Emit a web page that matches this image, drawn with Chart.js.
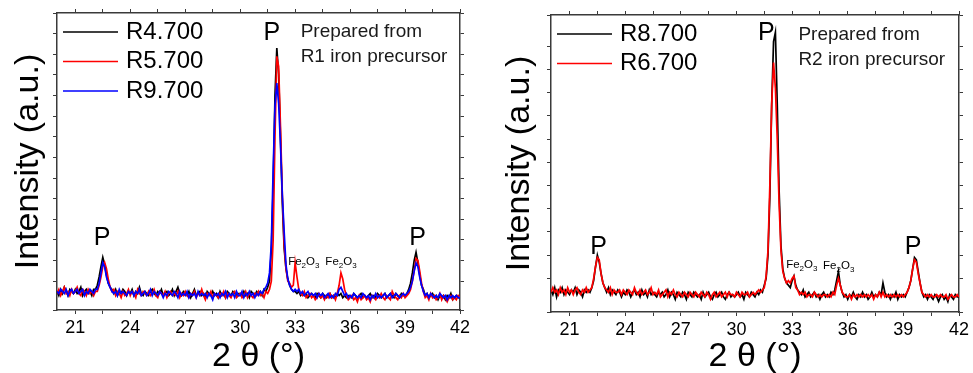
<!DOCTYPE html>
<html>
<head>
<meta charset="utf-8">
<script src="https://cdn.jsdelivr.net/npm/chart.js@4.4.1/dist/chart.umd.min.js"></script>
<style>
  body { margin: 0; background: #fff; }
  .panel { position: absolute; top: 0; }
  #left { left: 0; }
  #right { left: 487px; }
</style>
</head>
<body>
<div class="panel" id="left"><canvas id="leftChart" width="487" height="373"></canvas></div>
<div class="panel" id="right"><canvas id="rightChart" width="486" height="373"></canvas></div>
<script>
// 2 theta grid, 20 -> 42 deg every 0.1
const angleStart = 20;
const angleStep = 0.1;

// x ticks (labels only on multiples of 3)
const xTicks = [21, 22.5, 24, 25.5, 27, 28.5, 30, 31.5, 33, 34.5, 36, 37.5, 39, 40.5, 42];
const xTickLabels = ['21', '24', '27', '30', '33', '36', '39', '42'];

// left panel, R1 iron precursor
const leftLabels = ['R4.700', 'R5.700', 'R9.700'];
const leftBlack = [
  5,3,6,4,7,5,3,6,5,4,
  6,4,5,7,3,5,6,4,5,3,
  6,6,8,12,17,21.5,18,13,9,7,
  6,4,6,3,5,4,6,5,3,5,
  4,6,3,5,4,7,4,3,5,4,
  3,5,6,4,3,5,4,6,3,4,
  5,3,4,6,3,5,7,4,3,5,
  4,3,5,2,4,6,3,4,5,3,
  4,2,5,4,3,5,3,4,2,5,
  3,4,2,5,4,3,5,4,3,4,
  4,3,5,3,4,2,5,4,3,5,
  4,5,3,6,5,7,10,25,55,100,
  123,110,80,48,26,16,11,8,6,5,
  5,4,5,3,4,3,4,2,3,4,
  3,2,4,3,2,4,3,2,3,4,
  2,3,2,4,3,4,2,3,2,3,
  3,2,4,3,2,3,4,2,3,2,
  3,4,2,3,2,4,3,2,3,4,
  2,3,4,3,2,4,3,2,4,3,
  3,4,6,9,14,20,24,19,13,8,
  6,3,4,2,3,4,2,3,1,3,
  2,3,1,3,2,4,1,2,3,2,
  2
];
const leftRed = [
  4,6,3,5,7,4,5,3,6,4,
  5,7,4,3,6,5,3,6,4,5,
  3,5,5,8,12,17,19,16,11,7,
  5,6,3,5,4,2,5,3,4,6,
  3,5,4,2,6,4,3,5,4,3,
  5,3,4,6,3,2,5,4,3,5,
  2,4,5,3,4,3,5,2,4,3,
  5,3,2,4,3,5,2,4,3,6,
  3,1,4,3,5,2,4,3,2,4,
  3,5,2,4,3,2,4,5,2,3,
  4,2,3,5,2,4,3,2,4,3,
  5,3,4,2,5,4,6,10,30,80,
  119,114,85,52,28,16,10,9,7,8,
  19,12,6,4,3,5,2,3,4,2,
  3,1,2,4,2,3,1,3,2,4,
  2,3,1,4,8,14,11,6,3,1,
  2,3,1,2,0,3,1,2,3,1,
  2,0,3,2,1,3,2,4,2,1,
  3,2,1,5,3,2,1,3,2,4,
  2,3,4,6,10,15,21,20,15,9,
  5,2,3,1,4,2,3,1,2,4,
  1,3,2,0,2,3,1,2,1,3,
  2
];
const leftBlue = [
  5,4,6,5,4,6,3,5,6,4,
  5,6,4,5,6,3,5,4,6,5,
  4,6,6,9,14,19,17,12,9,7,
  5,4,5,3,6,4,5,4,3,5,
  4,5,3,5,4,6,3,4,5,3,
  4,6,3,5,4,3,5,4,2,4,
  3,5,4,3,5,4,2,5,3,4,
  3,5,2,4,3,4,2,5,3,4,
  3,4,2,4,3,1,4,3,4,2,
  4,3,5,2,4,3,4,2,5,3,
  3,5,2,4,3,5,3,4,2,4,
  3,5,4,6,7,9,14,28,64,95,
  106,96,76,52,34,18,11,8,6,5,
  6,5,6,4,5,3,4,5,3,4,
  3,4,2,4,3,4,2,3,4,2,
  3,2,4,3,6,7,5,3,4,2,
  3,2,4,3,2,3,2,4,3,2,
  3,1,3,2,4,2,3,2,3,4,
  2,3,4,2,3,4,3,2,3,4,
  3,4,5,7,10,15,18.8,17,12,8,
  5,3,4,2,4,3,2,3,2,4,
  3,2,3,1,3,2,3,2,3,2,
  2
];

// right panel, R2 iron precursor
const rightLabels = ['R8.700', 'R6.700'];
const rightBlack = [
  5,3,6,2,5,4,6,3,5,4,
  3,5,4,6,3,5,4,2,5,4,
  5,4,6,9,15,20,17,12,8,6,
  4,6,3,5,4,3,5,4,2,4,
  3,5,4,2,4,5,3,4,2,5,
  3,4,2,5,3,4,3,2,4,3,
  4,2,3,5,2,4,3,1,4,3,
  2,4,3,1,4,3,2,4,3,2,
  3,1,4,2,3,4,2,1,3,4,
  2,3,4,2,1,3,4,2,3,2,
  3,4,2,3,1,4,3,2,4,3,
  2,4,3,5,4,7,10,20,45,85,
  112,116,85,48,24,14,10,8,7,6,
  9,11,7,5,4,3,5,2,3,4,
  2,3,4,2,3,1,3,4,2,3,
  2,4,3,5,9,13,7,4,2,3,
  1,3,2,4,2,1,3,2,4,2,
  3,1,2,4,2,3,2,4,3,8,
  4,2,3,1,3,2,4,1,3,2,
  3,2,4,6,9,14,19,18,13,8,
  4,2,3,1,3,2,1,3,2,0,
  2,3,1,2,0,3,2,1,3,2,
  2
];
const rightRed = [
  4,6,4,5,3,6,4,5,3,6,
  4,5,3,5,6,4,3,5,4,6,
  4,5,6,10,15,19,18,12,8,6,
  5,4,6,3,5,4,4,5,3,5,
  4,3,5,4,3,6,4,3,5,3,
  4,5,3,4,6,3,4,3,5,2,
  3,4,5,2,4,3,5,3,2,4,
  3,2,4,3,2,4,3,2,4,3,
  2,4,3,2,4,3,1,3,4,2,
  3,4,2,3,4,2,4,3,3,2,
  4,3,2,4,3,3,4,2,3,4,
  3,4,5,4,5,6,11,22,50,85,
  103,92,70,42,22,13,10,8,9,8,
  10,11,6,5,3,4,3,4,2,3,
  3,2,4,3,2,3,2,3,3,2,
  3,2,4,3,7,10,7,4,3,2,
  2,3,1,3,2,3,2,3,2,3,
  2,3,2,3,1,3,2,4,2,4,
  2,3,2,3,2,3,2,3,2,3,
  2,3,4,6,9,14,18,17,12,8,
  4,3,2,3,2,3,2,2,3,2,
  3,2,2,3,1,2,3,2,2,3,
  2
];

// labels placed in data units (angle, intensity)
const leftPeaks = [[22.46, 30.9], [31.73, 130.3], [39.68, 30.9]];
const leftPhases = [[32.62, 19.3], [34.65, 19.3]];
const leftNote = ['Prepared from', 'R1 iron precursor'];
const leftNotePos = [33.3, 130.8, 118.7];

const rightPeaks = [[22.56, 23.5], [31.61, 115.8], [39.53, 23.5]];
const rightPhases = [[32.68, 15.8], [34.67, 15.3]];
const rightNote = ['Prepared from', 'R2 iron precursor'];
const rightNotePos = [33.34, 114.9, 104.1];

const FONT = '"Liberation Sans", Arial, sans-serif';

function toPoints(values) {
  return values.map((v, i) => ({ x: +(angleStart + i * angleStep).toFixed(1), y: v }));
}

const overlayPlugin = {
  id: 'overlay',
  afterDatasetsDraw(chart, args, opts) {
    const ctx = chart.ctx;
    const area = chart.chartArea;
    const xs = chart.scales.x;
    const ys = chart.scales.y;
    ctx.save();

    // legend inside the plot
    chart.data.datasets.forEach((ds, i) => {
      const y = area.top + 19 + i * 29.5;
      ctx.strokeStyle = ds.borderColor;
      ctx.lineWidth = 1.5;
      ctx.beginPath();
      ctx.moveTo(area.left + 6, y);
      ctx.lineTo(area.left + 61, y);
      ctx.stroke();
      ctx.fillStyle = '#000';
      ctx.font = '24px ' + FONT;
      ctx.textBaseline = 'middle';
      ctx.textAlign = 'left';
      ctx.fillText(ds.label, area.left + 69, y);
    });

    // P peak marks
    ctx.font = '25px ' + FONT;
    ctx.textAlign = 'center';
    opts.peaks.forEach(p => {
      ctx.fillText('P', xs.getPixelForValue(p[0]), ys.getPixelForValue(p[1]));
    });

    // Fe2O3 with subscripts
    ctx.textAlign = 'left';
    opts.phases.forEach(p => {
      let x = xs.getPixelForValue(p[0]);
      const y = ys.getPixelForValue(p[1]);
      const parts = [['Fe', 0], ['2', 1], ['O', 0], ['3', 1]];
      parts.forEach(([t, sub]) => {
        ctx.font = (sub ? '8px ' : '11.5px ') + FONT;
        ctx.fillText(t, x, sub ? y + 4 : y);
        x += ctx.measureText(t).width;
      });
    });

    // note text
    ctx.font = '19px ' + FONT;
    ctx.fillStyle = '#1a1a1a';
    const nx = xs.getPixelForValue(opts.notePos[0]);
    ctx.fillText(opts.note[0], nx, ys.getPixelForValue(opts.notePos[1]));
    ctx.fillText(opts.note[1], nx, ys.getPixelForValue(opts.notePos[2]));
    ctx.restore();
  }
};

function setXTicks(scale) {
  scale.ticks = xTicks.map(v => ({ value: v }));
}

function makeChart(id, datasets, box, yRange, titlePad, overlay) {
  const axisColor = '#3a3a3a';
  const tickGrid = { drawOnChartArea: false, drawTicks: true, tickLength: 4, color: axisColor, lineWidth: 1 };
  const border = { display: true, color: axisColor, width: 1.5 };
  return new Chart(document.getElementById(id), {
    type: 'line',
    data: { datasets },
    options: {
      responsive: false,
      animation: false,
      events: [],
      layout: { padding: 0 },
      elements: { point: { radius: 0 }, line: { borderWidth: 1.7, tension: 0 } },
      plugins: { legend: { display: false }, tooltip: { enabled: false }, overlay },
      scales: {
        x: {
          type: 'linear', position: 'bottom', min: 20, max: 42,
          afterBuildTicks: setXTicks,
          ticks: {
            padding: 3, color: '#000', font: { family: FONT, size: 18 },
            maxRotation: 0, autoSkip: false,
            callback: v => (xTickLabels.includes(String(v)) ? String(v) : '')
          },
          grid: tickGrid, border,
          title: { display: true, text: '2 θ (°)', color: '#000', font: { family: FONT, size: 34, lineHeight: 0.94 }, padding: { top: 0, bottom: 0 } },
          afterFit: s => { s.height = box.bottom; }
        },
        x2: {
          type: 'linear', position: 'top', min: 20, max: 42,
          afterBuildTicks: setXTicks,
          ticks: { display: false },
          grid: tickGrid, border,
          afterFit: s => { s.height = box.top; }
        },
        y: {
          type: 'linear', position: 'left', min: yRange[0], max: yRange[1],
          ticks: { display: false, stepSize: 10 },
          grid: tickGrid, border,
          title: { display: true, text: 'Intensity (a.u.)', color: '#000', font: { family: FONT, size: 34 }, padding: { top: titlePad, bottom: 0 } },
          afterFit: s => { s.width = box.left; }
        },
        y2: {
          type: 'linear', position: 'right', min: yRange[0], max: yRange[1],
          ticks: { display: false, stepSize: 10 },
          grid: tickGrid, border,
          afterFit: s => { s.width = box.right; }
        }
      }
    },
    plugins: [overlayPlugin]
  });
}

makeChart('leftChart', [
  { label: leftLabels[0], data: toPoints(leftBlack), borderColor: '#000000', order: 3 },
  { label: leftLabels[1], data: toPoints(leftRed), borderColor: '#ff0000', order: 2 },
  { label: leftLabels[2], data: toPoints(leftBlue), borderColor: '#0000ff', order: 1 }
], { left: 57, right: 27, top: 13, bottom: 63 }, [-4, 140], 8,
  { peaks: leftPeaks, phases: leftPhases, note: leftNote, notePos: leftNotePos });

makeChart('rightChart', [
  { label: rightLabels[0], data: toPoints(rightBlack), borderColor: '#000000', order: 2 },
  { label: rightLabels[1], data: toPoints(rightRed), borderColor: '#ff0000', order: 1 }
], { left: 64, right: 14, top: 15, bottom: 61 }, [-4.5, 123.5], 12.6,
  { peaks: rightPeaks, phases: rightPhases, note: rightNote, notePos: rightNotePos });
</script>
</body>
</html>
